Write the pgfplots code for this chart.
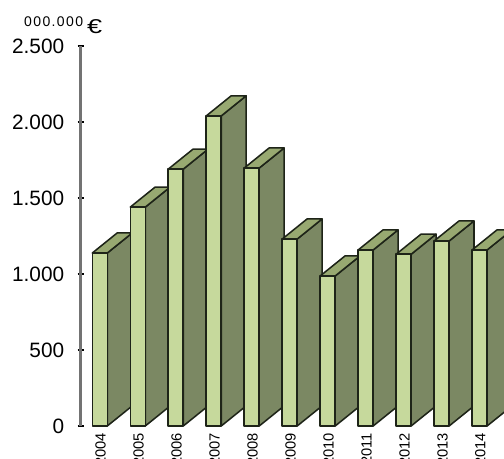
\documentclass[border=0pt]{standalone}
\usepackage{pgfplots}
\pgfplotsset{compat=1.18}
\usepackage{fontspec}
\setmainfont{Liberation Sans}
\definecolor{frontc}{HTML}{C6D99C}
\definecolor{sidec}{HTML}{7B8863}
\definecolor{topc}{HTML}{98A971}
\definecolor{edgec}{HTML}{1E2418}
\newcommand\tdbar[2]{%
  \addplot[draw=edgec,line width=1.15pt,line join=round,fill=sidec] coordinates {({#1+0.395},0) ({#1+1.05},132) ({#1+1.05},{#2+132}) ({#1+0.395},#2)} -- cycle;
  \addplot[draw=edgec,line width=1.15pt,line join=round,fill=topc] coordinates {(#1,#2) ({#1+0.395},#2) ({#1+1.05},{#2+132}) ({#1+0.655},{#2+132})} -- cycle;
  \addplot[draw=edgec,line width=1.15pt,line join=round,fill=frontc] coordinates {(#1,0) ({#1+0.395},0) ({#1+0.395},#2) (#1,#2)} -- cycle;
}
\begin{document}
\begin{tikzpicture}[x=1pt,y=1pt]
\path[use as bounding box] (0,0) rectangle (378,344.25);
\clip (0,0) rectangle (378,344.25);
\begin{axis}[
  at={(60.4pt,24.75pt)},anchor=south west,
  scale only axis,width=317.6pt,height=285pt,
  xmin=2003.69,xmax=2014.84,ymin=0,ymax=2500,
  axis x line=none,
  axis y line*=left,
  y axis line style={draw=black!55,line width=2.2pt,-},
  ytick={0,500,1000,1500,2000,2500},
  ytick style={draw=black,line width=1.1pt},
  tick align=center,
  major tick length=4.5pt,
  tick label style={font=\fontsize{15.6}{15.6}\selectfont},
  yticklabel style={xshift=-6.5pt,/pgf/number format/.cd,use comma=false,1000 sep={.},assume math mode=true},
  scaled y ticks=false,
  clip=false,
]
\tdbar{2004}{1138}
\tdbar{2005}{1440}
\tdbar{2006}{1690}
\tdbar{2007}{2040}
\tdbar{2008}{1697}
\tdbar{2009}{1230}
\tdbar{2010}{987}
\tdbar{2011}{1158}
\tdbar{2012}{1130}
\tdbar{2013}{1217}
\tdbar{2014}{1158}
\pgfplotsinvokeforeach{2004,...,2014}{
  \node[inner sep=0pt,font=\fontsize{11}{11}\selectfont,rotate=90,anchor=east,xshift=-5pt]
    at (axis cs:{#1+0.22},0) {#1};
}
\node[anchor=base west,inner sep=0pt,font=\fontsize{10.5}{10.5}\selectfont\addfontfeatures{LetterSpace=10}] at (axis cs:2003.69,2500) [xshift=-42.5pt,yshift=14.25pt] {000.000};
\node[anchor=base west,inner sep=0pt,font=\fontsize{15}{15}\selectfont,xscale=1.35] at (axis cs:2003.69,2500) [xshift=3.5pt,yshift=9.25pt] {€};
\end{axis}
\end{tikzpicture}
\end{document}
